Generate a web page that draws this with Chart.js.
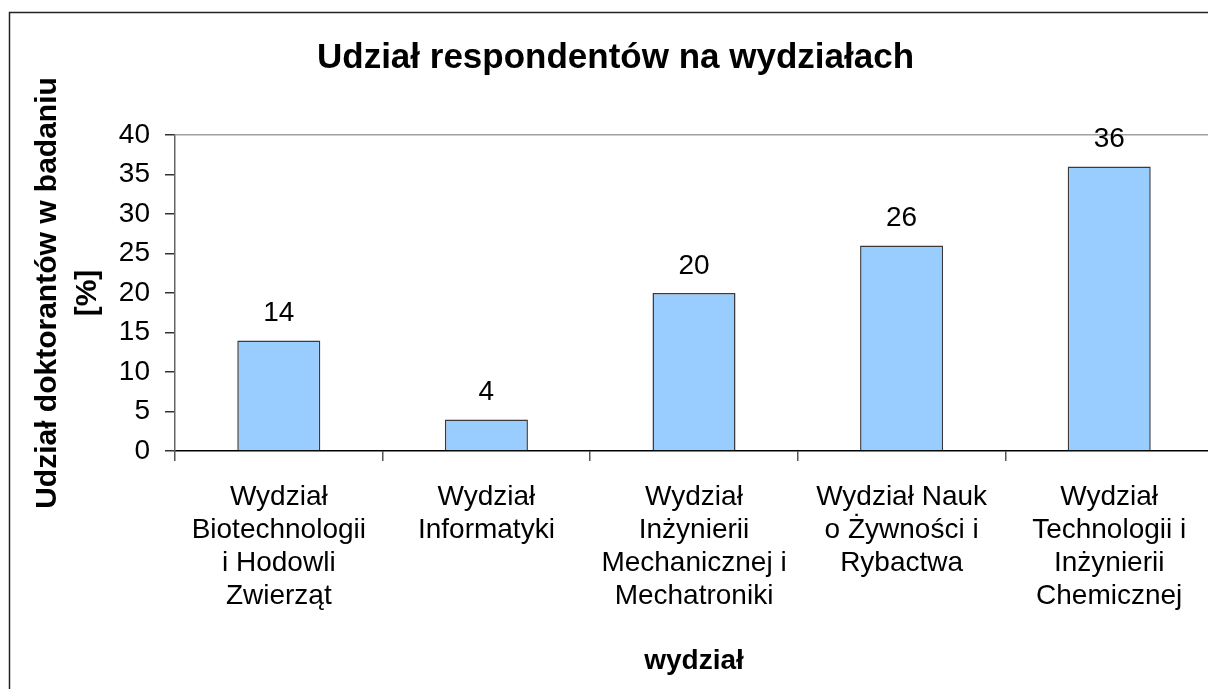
<!DOCTYPE html>
<html>
<head>
<meta charset="utf-8">
<script src="https://cdn.jsdelivr.net/npm/chart.js@4/dist/chart.umd.min.js"></script>
<style>
  html, body { margin: 0; padding: 0; background: #fff; overflow: hidden; }
  #wrap { width: 1216px; height: 689px; position: relative; }
</style>
</head>
<body>
<div id="wrap"><canvas id="myChart"></canvas></div>
<script>
// kategorie (wydziały) i udział w procentach
const wydzialy = [
  ['Wydział', 'Biotechnologii', 'i Hodowli', 'Zwierząt'],
  ['Wydział', 'Informatyki'],
  ['Wydział', 'Inżynierii', 'Mechanicznej i', 'Mechatroniki'],
  ['Wydział Nauk', 'o Żywności i', 'Rybactwa'],
  ['Wydział', 'Technologii i', 'Inżynierii', 'Chemicznej']
];
const udzial = [14, 4, 20, 26, 36];
const yTicks = [0, 5, 10, 15, 20, 25, 30, 35, 40];

const FONT = 'Arial, "Liberation Sans", sans-serif';

// ramka wokół całego wykresu
const ramka = {
  id: 'ramka',
  beforeDraw(chart) {
    const ctx = chart.ctx;
    ctx.save();
    ctx.fillStyle = '#fff';
    ctx.fillRect(0, 0, chart.width, chart.height);
    ctx.strokeStyle = '#222';
    ctx.lineWidth = 1.5;
    ctx.strokeRect(9.5, 12.5, 1400, 900);
    ctx.restore();
  }
};

// etykiety wartości nad słupkami
const etykiety = {
  id: 'etykiety',
  afterDatasetsDraw(chart) {
    const ctx = chart.ctx;
    const meta = chart.getDatasetMeta(0);
    ctx.save();
    ctx.font = '28px ' + FONT;
    ctx.fillStyle = '#000';
    ctx.textAlign = 'center';
    ctx.textBaseline = 'middle';
    meta.data.forEach((bar, i) => {
      ctx.fillText(udzial[i], bar.x, bar.y - 27);
    });
    ctx.restore();
  }
};

const ctx = document.getElementById('myChart').getContext('2d');
const myChart = new Chart(ctx, {
  type: 'bar',
  data: {
    labels: wydzialy,
    datasets: [{
      data: udzial,
      backgroundColor: '#99CCFF',
      borderColor: '#3a3a3a',
      borderWidth: 1.5,
      barPercentage: 0.8,
      categoryPercentage: 0.5
    }]
  },
  options: {
    responsive: true,
    maintainAspectRatio: false,
    animation: false,
    layout: { padding: { left: 18, right: 3, top: 0, bottom: 0 } },
    plugins: {
      legend: { display: false },
      tooltip: { enabled: false },
      title: {
        display: true,
        text: 'Udział respondentów na wydziałach',
        color: '#000',
        font: { family: FONT, size: 35, weight: 'bold', lineHeight: 1.2 },
        padding: { top: 37, bottom: 56 }
      }
    },
    scales: {
      x: {
        afterFit(scale) { scale.height = 238; },
        grid: {
          offset: true,
          drawOnChartArea: false,
          tickLength: 10,
          tickColor: '#555',
          lineWidth: 1.5
        },
        border: { color: '#000', width: 1.5 },
        ticks: {
          color: '#000',
          padding: 19.5,
          maxRotation: 0,
          autoSkip: false,
          font: { family: FONT, size: 28, lineHeight: 1.18 }
        },
        title: {
          display: true,
          text: 'wydział',
          color: '#000',
          font: { family: FONT, size: 28, weight: 'bold' },
          padding: { top: 0, bottom: 11 }
        }
      },
      y: {
        min: 0,
        max: 40,
        afterFit(scale) { scale.width = 157; },
        afterBuildTicks(scale) { scale.ticks = yTicks.map(v => ({ value: v })); },
        grid: {
          color: c => (c.tick && c.tick.value === 40 ? '#a0a0a0' : 'rgba(0,0,0,0)'),
          lineWidth: 1.5,
          tickLength: 10,
          tickColor: '#333'
        },
        border: { color: '#666', width: 1.5 },
        ticks: {
          color: '#000',
          padding: 15,
          font: { family: FONT, size: 28 }
        },
        title: {
          display: true,
          text: ['Udział doktorantów w badaniu', '[%]'],
          color: '#000',
          font: { family: FONT, size: 30, weight: 'bold', lineHeight: 1.35 },
          padding: { top: 9, bottom: 0 }
        }
      }
    }
  },
  plugins: [ramka, etykiety]
});
</script>
</body>
</html>
